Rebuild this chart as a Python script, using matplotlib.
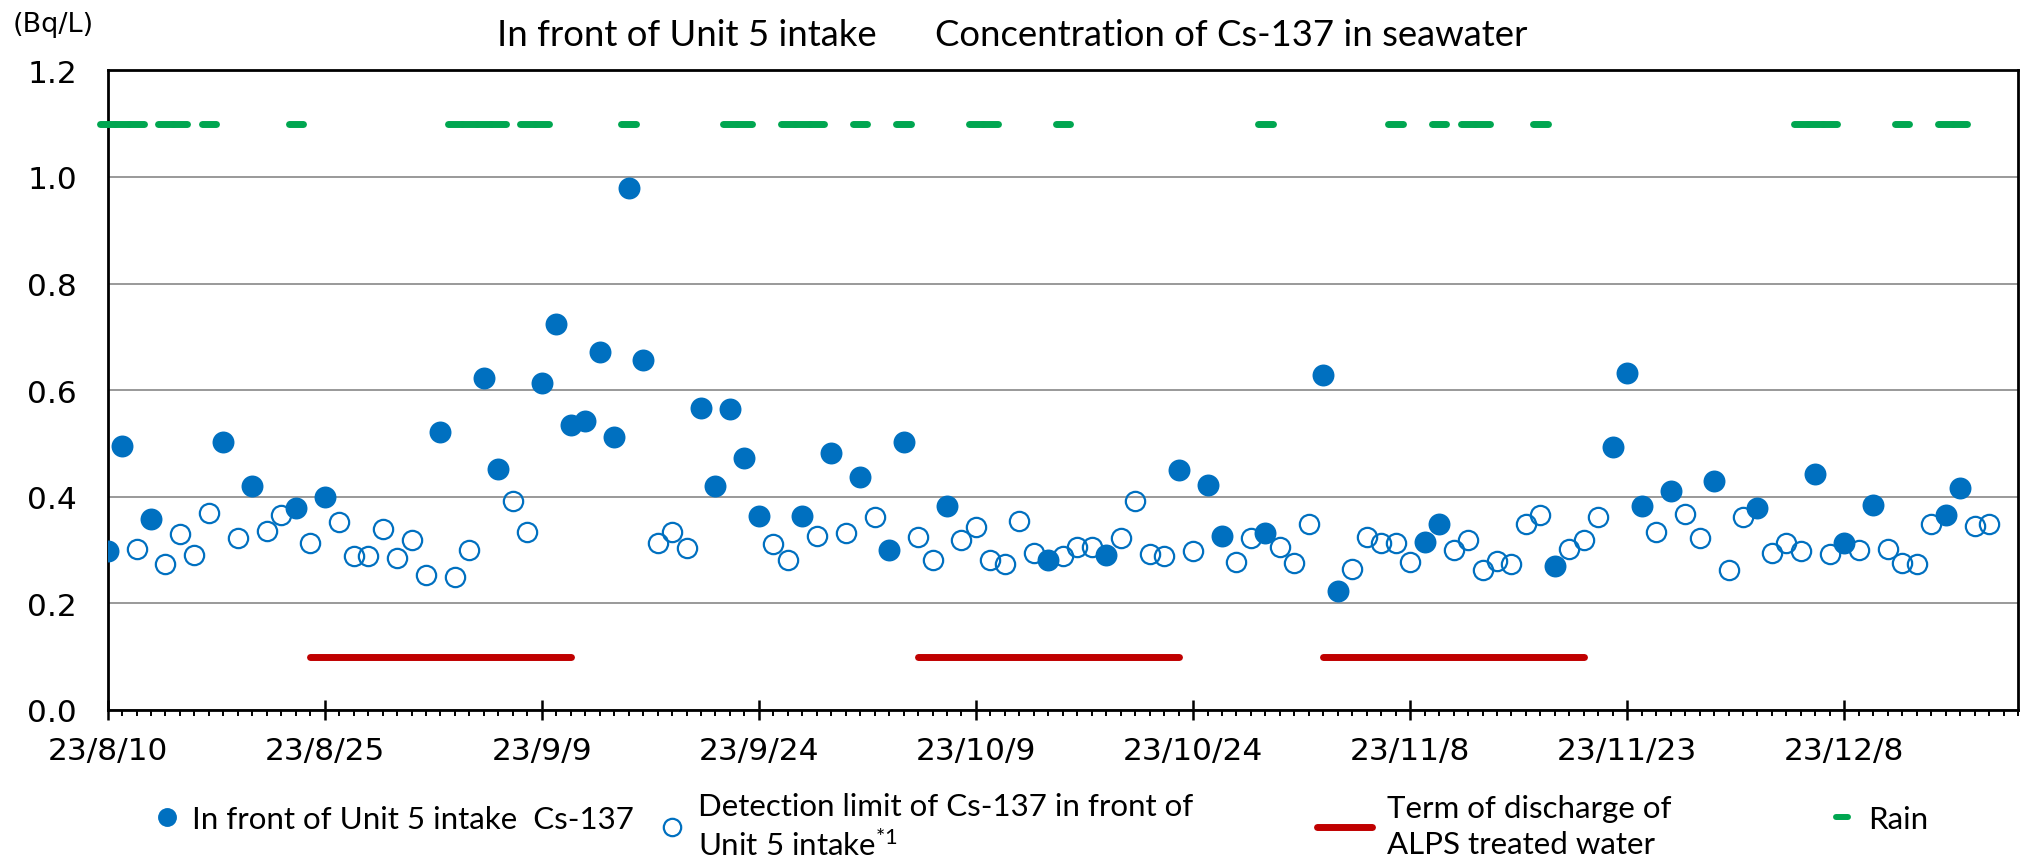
import numpy as np
import pandas as pd
import matplotlib
matplotlib.use('Agg')
import matplotlib.pyplot as plt
import matplotlib.dates as mdates
from matplotlib.lines import Line2D

YEAR = '2023-'

# Cs-137 detected in front of Unit 5 intake (filled circles)
cs_dates = ['08-10', '08-11', '08-13', '08-18', '08-20', '08-23', '08-25', '09-02',
            '09-05', '09-06', '09-09', '09-10', '09-11', '09-12', '09-13', '09-14',
            '09-15', '09-16', '09-20', '09-21', '09-22', '09-23', '09-24', '09-27',
            '09-29', '10-01', '10-03', '10-04', '10-07', '10-14', '10-18', '10-23',
            '10-25', '10-26', '10-29', '11-02', '11-03', '11-09', '11-10', '11-18',
            '11-22', '11-23', '11-24', '11-26', '11-29', '12-02', '12-06', '12-08',
            '12-10', '12-15', '12-16']
cs_values = [0.299, 0.496, 0.358, 0.502, 0.421, 0.379, 0.399, 0.522,
             0.623, 0.453, 0.614, 0.724, 0.534, 0.543, 0.671, 0.512,
             0.979, 0.657, 0.566, 0.420, 0.565, 0.473, 0.364, 0.364,
             0.482, 0.437, 0.301, 0.502, 0.383, 0.281, 0.291, 0.451,
             0.422, 0.326, 0.332, 0.629, 0.224, 0.316, 0.349, 0.270,
             0.494, 0.632, 0.383, 0.410, 0.430, 0.379, 0.442, 0.314,
             0.384, 0.366, 0.417]

# detection limit of Cs-137 (open circles)
dl_dates = ['08-12', '08-14', '08-15', '08-16', '08-17', '08-19', '08-21', '08-22',
            '08-24', '08-26', '08-27', '08-28', '08-29', '08-30', '08-31', '09-01',
            '09-03', '09-04', '09-07', '09-08', '09-17', '09-18', '09-19', '09-25',
            '09-26', '09-28', '09-30', '10-02', '10-05', '10-06', '10-08', '10-09',
            '10-10', '10-11', '10-12', '10-13', '10-15', '10-16', '10-17', '10-19',
            '10-20', '10-21', '10-22', '10-24', '10-27', '10-28', '10-30', '10-31',
            '11-01', '11-04', '11-05', '11-06', '11-07', '11-08', '11-11', '11-12',
            '11-13', '11-14', '11-15', '11-16', '11-17', '11-19', '11-20', '11-21',
            '11-25', '11-27', '11-28', '11-30', '12-01', '12-03', '12-04', '12-05',
            '12-07', '12-09', '12-11', '12-12', '12-13', '12-14', '12-17', '12-18']
dl_values = [0.302, 0.273, 0.331, 0.290, 0.370, 0.322, 0.335, 0.365,
             0.313, 0.352, 0.288, 0.288, 0.340, 0.285, 0.318, 0.253,
             0.249, 0.300, 0.392, 0.333, 0.314, 0.334, 0.303, 0.311,
             0.282, 0.326, 0.332, 0.362, 0.325, 0.281, 0.319, 0.343,
             0.282, 0.273, 0.355, 0.295, 0.289, 0.305, 0.305, 0.323,
             0.392, 0.293, 0.288, 0.299, 0.277, 0.323, 0.305, 0.276,
             0.349, 0.264, 0.325, 0.314, 0.313, 0.277, 0.301, 0.318,
             0.262, 0.279, 0.274, 0.348, 0.365, 0.302, 0.319, 0.362,
             0.333, 0.367, 0.323, 0.262, 0.362, 0.295, 0.313, 0.298,
             0.293, 0.300, 0.302, 0.275, 0.274, 0.349, 0.345, 0.349]

# rain days
rain_dates = ['08-10', '08-11', '08-12', '08-14', '08-15', '08-17', '08-23',
              '09-03', '09-04', '09-05', '09-06', '09-08', '09-09', '09-15',
              '09-22', '09-23', '09-26', '09-27', '09-28', '10-01', '10-04',
              '10-09', '10-10', '10-15', '10-29', '11-07', '11-10', '11-12',
              '11-13', '11-17', '12-05', '12-06', '12-07', '12-12', '12-15', '12-16']
RAIN_LEVEL = 1.1

# discharge of ALPS treated water
discharge_start = ['08-24', '10-05', '11-02']
discharge_end = ['09-11', '10-23', '11-20']
DISCHARGE_LEVEL = 0.1

x_start, x_end = '2023-08-10', '2023-12-20'

BLUE = '#0070C0'
RED = '#C00000'
GREEN = '#00A650'
W, H = 2020, 862


def to_num(lst):
    # dates as matplotlib day numbers
    return mdates.date2num(pd.to_datetime([YEAR + d for d in lst]))


fig = plt.figure(figsize=(W / 100, H / 100), dpi=100)
ax = fig.add_axes([107.6 / W, 151 / H, 1910.4 / W, 639.7 / H])
ax.xaxis_date()

# rain marks, one dash per day
rain = to_num(rain_dates)
ax.hlines(np.full(len(rain), RAIN_LEVEL), rain - 0.5, rain + 0.5, colors=GREEN,
          linewidth=5, capstyle='round', clip_on=False, zorder=3)

# discharge terms
d0, d1 = to_num(discharge_start), to_num(discharge_end)
ax.hlines(np.full(len(d0), DISCHARGE_LEVEL), d0, d1, colors=RED, linewidth=5,
          capstyle='round', zorder=3)

dl_line, = ax.plot(to_num(dl_dates), dl_values, ls='none', marker='o', ms=13.9,
                   mfc='none', mec=BLUE, mew=1.6, zorder=4)
cs_line, = ax.plot(to_num(cs_dates), cs_values, ls='none', marker='o', ms=15.8,
                   mfc=BLUE, mew=0, zorder=5)

ax.set_xlim(mdates.date2num(pd.Timestamp(x_start)), mdates.date2num(pd.Timestamp(x_end)))
ax.set_ylim(0, 1.2)

major = pd.date_range(x_start, periods=9, freq='15D')
ax.set_xticks(mdates.date2num(major), [f'{d.year % 100}/{d.month}/{d.day}' for d in major])
ax.set_xticks(mdates.date2num(pd.date_range(x_start, x_end, freq='D')), minor=True)
yt = np.arange(0, 1.21, 0.2)
ax.set_yticks(yt, [f'{v:.1f}' for v in yt])

ax.tick_params(axis='x', which='major', direction='inout', length=15, width=1.8,
               pad=11, labelsize=22.5)
ax.tick_params(axis='x', which='minor', direction='out', length=4, width=1.4)
ax.tick_params(axis='y', length=0, pad=22, labelsize=22.5)

ax.yaxis.grid(True, color='#878787', linewidth=1.2)
ax.set_axisbelow(True)
for s in ax.spines.values():
    s.set_linewidth(2)
    s.set_color('black')

# titles
fig.text(877 / W, 1 - 45.7 / H, 'In front of Unit 5 intake', ha='right',
         va='baseline', fontsize=26.3, family='Lato')
fig.text(935 / W, 1 - 45.7 / H, 'Concentration of Cs-137 in seawater', ha='left',
         va='baseline', fontsize=26.3, family='Lato')
fig.text(13 / W, 1 - 32 / H, '(Bq/L)', ha='left', va='baseline', fontsize=19.5)

# legends
lprop = {'family': 'Lato', 'size': 22.5}
common = dict(loc='center left', frameon=False, borderpad=0, borderaxespad=0,
              prop=lprop)

fig.legend([cs_line], ['In front of Unit 5 intake  Cs-137'],
           bbox_to_anchor=(155 / W, 1 - 820 / H), handlelength=0.77,
           handletextpad=0.4, markerscale=0.86, **common)
leg2 = fig.legend([dl_line], ['Detection limit of Cs-137 in front of\nUnit 5 intake$^{\\mathregular{*1}}$'],
                  bbox_to_anchor=(660 / W, 1 - 827 / H), handlelength=0.77,
                  handletextpad=0.43, markerscale=0.9, **common)
red_h = Line2D([], [], color=RED, lw=5, solid_capstyle='round')
leg3 = fig.legend([red_h], ['Term of discharge of\nALPS treated water'],
                  bbox_to_anchor=(1316.5 / W, 1 - 827 / H), handlelength=1.76,
                  handletextpad=0.5, **common)
green_h = Line2D([], [], color=GREEN, lw=4.3, solid_capstyle='round')
fig.legend([green_h], ['Rain'], bbox_to_anchor=(1836 / W, 1 - 820 / H),
           handlelength=0.38, handletextpad=0.64, **common)
for lg in (leg2, leg3):
    for t in lg.get_texts():
        t.set_linespacing(1.32)

fig.savefig('out.png', dpi=100)
